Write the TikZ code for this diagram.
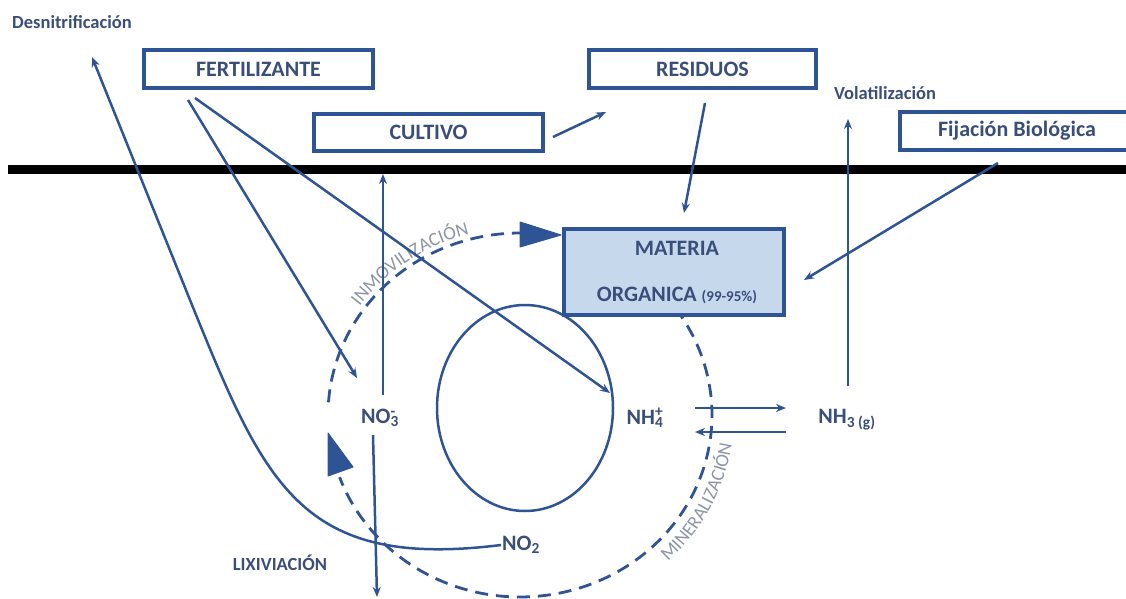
\documentclass[tikz,border=0pt]{standalone}
\usepackage{fontspec}
\setmainfont{Carlito}
\usetikzlibrary{arrows.meta,decorations.text}
\definecolor{lncol}{RGB}{47,84,150}
\definecolor{txcol}{RGB}{58,78,122}
\definecolor{grcol}{RGB}{140,148,165}
\definecolor{mocol}{RGB}{198,216,236}
\begin{document}
\begin{tikzpicture}[x=1pt,y=-1pt,
  boxst/.style={draw=lncol, line width=3.5pt, fill=white, inner sep=0pt, text=txcol,
    font=\bfseries\fontsize{22}{25}\selectfont},
  lbl/.style={text=txcol, font=\bfseries\fontsize{22}{25}\selectfont, inner sep=1pt},
  sml/.style={text=txcol, font=\bfseries\fontsize{18.5}{21}\selectfont, inner sep=1pt},
  arr/.style={draw=lncol, line width=2.5pt, -{Stealth[length=10pt,width=8pt]}},
  dsh/.style={draw=lncol, line width=2.8pt, dash pattern=on 13pt off 8pt},
  tri/.style={fill=lncol, draw=lncol, line width=1pt, line join=round}]
\useasboundingbox (0,0) rectangle (1126,599);
\clip (0,0) rectangle (1126,599);

% soil surface
\draw[line width=9pt, black] (8,169) -- (1130,169);

% solid inner ellipse
\draw[lncol, line width=2.5pt] (525,408) ellipse [x radius=88, y radius=103];

% dashed cycle: immobilization part
\draw[dsh] plot[domain=184:270, samples=60] ({520+192*cos(\x)},{415+182*sin(\x)});
\draw[tri] (520,222) -- (520,247) -- (561,235) -- cycle;
% mineralization part
\draw[dsh] plot[domain=-36:160, samples=120] ({520+192*cos(\x)},{415+182*sin(\x)});
\draw[tri] (328,433) -- (328,476) -- (353,467) -- cycle;

% curved labels
\path[decorate, decoration={text along path, text align=center,
   text={|\fontsize{19}{19}\selectfont\color{grcol}|INMOVILIZACIÓN}}]
   plot[domain=200:270, samples=80] ({520+197*cos(\x)},{415+187*sin(\x)});
\path[decorate, decoration={text along path, text align=center,
   text={|\fontsize{19}{19}\selectfont\color{grcol}|MINERALIZACIÓN}}]
   plot[domain=60:-6, samples=80] ({520+214*cos(\x)},{415+203*sin(\x)});

% boxes
\node[boxst, minimum width=229pt, minimum height=38pt] (fert) at (258.5,69) {FERTILIZANTE};
\node[boxst, minimum width=229pt, minimum height=37pt] (cult) at (428.5,132.5) {CULTIVO};
\node[boxst, minimum width=227pt, minimum height=38pt] (resid) at (702.5,69) {RESIDUOS};
\node[boxst, minimum width=234pt, minimum height=38pt] (fija) at (1017,131) {Fijación Biológica};
\node[boxst, fill=mocol, minimum width=220pt, minimum height=86pt, align=center] (mo) at (674,272)
  {\hspace*{6pt}MATERIA\\[21pt]\hspace*{6pt}ORGANICA {\fontsize{15}{17}\selectfont (99-95\%)}};

% labels
\node[sml] (desn) at (72,22) {Desnitrificación};
\node[sml] (vola) at (885,93) {Volatilización};
\node[sml] (lixi) at (280,563) {LIXIVIACIÓN};
\node[lbl] (no3) at (380,418) {NO\rlap{\textsuperscript{-}}\textsubscript{3}};
\node[lbl] (nh4) at (645,418) {NH\rlap{\textsuperscript{+}}\textsubscript{4}};
\node[lbl] (nh3) at (847,420) {NH\textsubscript{3 (g)}};
\node[lbl] (no2) at (521,545) {NO\textsubscript{2}};

% coordinates for free ends
\coordinate (f1) at (188,100);
\coordinate (f2) at (195,98);
\coordinate (no3in) at (357,378);
\coordinate (nh4in) at (610,393);
\coordinate (desntip) at (92,57);
\coordinate (no3up) at (383,395);
\coordinate (no3top) at (383,174);
\coordinate (no3dn) at (373,435);
\coordinate (lixend) at (377,597);
\coordinate (cultout) at (553,137);
\coordinate (residin) at (606,112);
\coordinate (residout) at (705,103);
\coordinate (moin) at (684,213);
\coordinate (fijout) at (998,163);
\coordinate (moright) at (804,280);
\coordinate (nh3up) at (848,386);
\coordinate (volatip) at (848,119);
\coordinate (r1a) at (695,408);
\coordinate (r1b) at (786,408);
\coordinate (r2a) at (786,432);
\coordinate (r2b) at (695,432);

% arrows
\draw[arr] (f1) -- (no3in);
\draw[arr] (f2) -- (nh4in);
\draw[arr] (no2.west) .. controls (300,570) and (265,485) .. (190,300) -- (desntip);
\draw[arr] (no3up) -- (no3top);
\draw[arr] (no3dn) -- (lixend);
\draw[arr] (cultout) -- (residin);
\draw[arr] (residout) -- (moin);
\draw[arr] (fijout) -- (moright);
\draw[arr] (nh3up) -- (volatip);
\draw[arr] (r1a) -- (r1b);
\draw[arr] (r2a) -- (r2b);
\end{tikzpicture}
\end{document}
